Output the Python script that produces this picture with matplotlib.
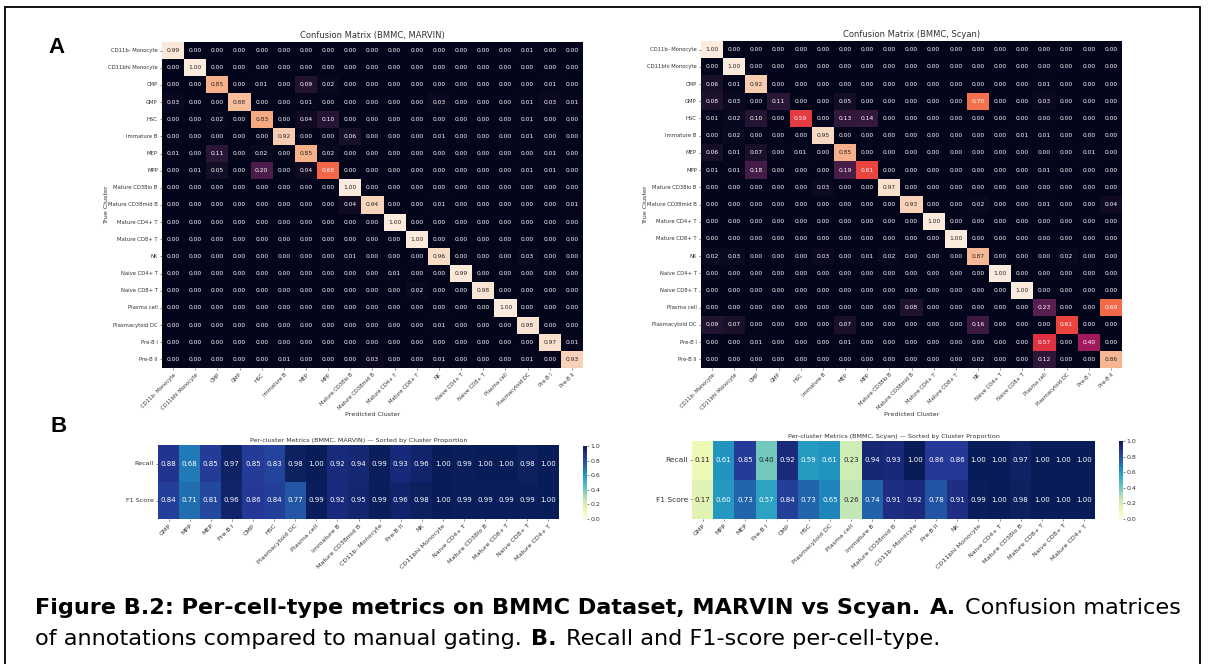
import numpy as np
import pandas as pd
import matplotlib
matplotlib.use('Agg')
import matplotlib.pyplot as plt
import seaborn as sns

# Clusters (order of confusion matrices)
clusters = ['CD11b- Monocyte', 'CD11bhi Monocyte', 'CMP', 'GMP', 'HSC', 'Immature B', 'MEP', 'MPP',
            'Mature CD38lo B', 'Mature CD38mid B', 'Mature CD4+ T', 'Mature CD8+ T', 'NK',
            'Naive CD4+ T', 'Naive CD8+ T', 'Plasma cell', 'Plasmacytoid DC', 'Pre-B I', 'Pre-B II']

# Confusion matrix MARVIN (rows = true, cols = predicted)
cm_marvin = [
    [.99, 0, 0, 0, 0, 0, 0, 0, 0, 0, 0, 0, 0, 0, 0, 0, .01, 0, 0],
    [0, 1.0, 0, 0, 0, 0, 0, 0, 0, 0, 0, 0, 0, 0, 0, 0, 0, 0, 0],
    [0, 0, .85, 0, .01, 0, .09, .02, 0, 0, 0, 0, 0, 0, 0, 0, 0, .01, 0],
    [.03, 0, 0, .88, 0, 0, .01, 0, 0, 0, 0, 0, .03, 0, 0, 0, .01, .03, .01],
    [0, 0, .02, 0, .83, 0, .04, .10, 0, 0, 0, 0, 0, 0, 0, 0, .01, 0, 0],
    [0, 0, 0, 0, 0, .92, 0, 0, .06, 0, 0, 0, .01, 0, 0, 0, .01, 0, 0],
    [.01, 0, .11, 0, .02, 0, .85, .02, 0, 0, 0, 0, 0, 0, 0, 0, 0, .01, 0],
    [0, .01, .05, 0, .20, 0, .04, .68, 0, 0, 0, 0, 0, 0, 0, 0, .01, .01, 0],
    [0, 0, 0, 0, 0, 0, 0, 0, 1.0, 0, 0, 0, 0, 0, 0, 0, 0, 0, 0],
    [0, 0, 0, 0, 0, 0, 0, 0, .04, .94, 0, 0, .01, 0, 0, 0, 0, 0, .01],
    [0, 0, 0, 0, 0, 0, 0, 0, 0, 0, 1.0, 0, 0, 0, 0, 0, 0, 0, 0],
    [0, 0, 0, 0, 0, 0, 0, 0, 0, 0, 0, 1.0, 0, 0, 0, 0, 0, 0, 0],
    [0, 0, 0, 0, 0, 0, 0, 0, .01, 0, 0, 0, .96, 0, 0, 0, .03, 0, 0],
    [0, 0, 0, 0, 0, 0, 0, 0, 0, 0, .01, 0, 0, .99, 0, 0, 0, 0, 0],
    [0, 0, 0, 0, 0, 0, 0, 0, 0, 0, 0, .02, 0, 0, .98, 0, 0, 0, 0],
    [0, 0, 0, 0, 0, 0, 0, 0, 0, 0, 0, 0, 0, 0, 0, 1.0, 0, 0, 0],
    [0, 0, 0, 0, 0, 0, 0, 0, 0, 0, 0, 0, .01, 0, 0, 0, .98, 0, 0],
    [0, 0, 0, 0, 0, 0, 0, 0, 0, 0, 0, 0, 0, 0, 0, 0, 0, .97, .01],
    [0, 0, 0, 0, 0, .01, 0, 0, 0, .03, 0, 0, .01, 0, 0, 0, .01, 0, .93],
]

# Confusion matrix Scyan
cm_scyan = [
    [1.0, 0, 0, 0, 0, 0, 0, 0, 0, 0, 0, 0, 0, 0, 0, 0, 0, 0, 0],
    [0, 1.0, 0, 0, 0, 0, 0, 0, 0, 0, 0, 0, 0, 0, 0, 0, 0, 0, 0],
    [.06, .01, .92, 0, 0, 0, 0, 0, 0, 0, 0, 0, 0, 0, 0, .01, 0, 0, 0],
    [.08, .03, 0, .11, 0, 0, .05, 0, 0, 0, 0, 0, .70, 0, 0, .03, 0, 0, 0],
    [.01, .02, .10, 0, .59, 0, .13, .14, 0, 0, 0, 0, 0, 0, 0, 0, 0, 0, 0],
    [0, .02, 0, 0, 0, .95, 0, 0, 0, 0, 0, 0, 0, 0, .01, .01, 0, 0, 0],
    [.06, .01, .07, 0, .01, 0, .85, 0, 0, 0, 0, 0, 0, 0, 0, 0, 0, .01, 0],
    [.01, .01, .18, 0, 0, 0, .19, .61, 0, 0, 0, 0, 0, 0, 0, .01, 0, 0, 0],
    [0, 0, 0, 0, 0, .03, 0, 0, .97, 0, 0, 0, 0, 0, 0, 0, 0, 0, 0],
    [0, 0, 0, 0, 0, 0, 0, 0, 0, .93, 0, 0, .02, 0, 0, .01, 0, 0, .04],
    [0, 0, 0, 0, 0, 0, 0, 0, 0, 0, 1.0, 0, 0, 0, 0, 0, 0, 0, 0],
    [0, 0, 0, 0, 0, 0, 0, 0, 0, 0, 0, 1.0, 0, 0, 0, 0, 0, 0, 0],
    [.02, .03, 0, 0, 0, .03, 0, .01, .02, 0, 0, 0, .87, 0, 0, 0, .02, 0, 0],
    [0, 0, 0, 0, 0, 0, 0, 0, 0, 0, 0, 0, 0, 1.0, 0, 0, 0, 0, 0],
    [0, 0, 0, 0, 0, 0, 0, 0, 0, 0, 0, 0, 0, 0, 1.0, 0, 0, 0, 0],
    [0, 0, 0, 0, 0, 0, 0, 0, 0, .08, 0, 0, 0, 0, 0, .23, 0, 0, .69],
    [.09, .07, 0, 0, 0, 0, .07, 0, 0, 0, 0, 0, .16, 0, 0, 0, .61, 0, 0],
    [0, 0, .01, 0, 0, 0, .01, 0, 0, 0, 0, 0, 0, 0, 0, .57, 0, .40, 0],
    [0, 0, 0, 0, 0, 0, 0, 0, 0, 0, 0, 0, .02, 0, 0, .12, 0, 0, .86],
]

# Per-cluster metrics (sorted by cluster proportion)
sorted_clusters = ['GMP', 'MPP', 'MEP', 'Pre-B I', 'CMP', 'HSC', 'Plasmacytoid DC', 'Plasma cell',
                   'Immature B', 'Mature CD38mid B', 'CD11b- Monocyte', 'Pre-B II', 'NK',
                   'CD11bhi Monocyte', 'Naive CD4+ T', 'Mature CD38lo B', 'Mature CD8+ T',
                   'Naive CD8+ T', 'Mature CD4+ T']
marvin_recall = [.88, .68, .85, .97, .85, .83, .98, 1.00, .92, .94, .99, .93, .96, 1.00, .99, 1.00, 1.00, .98, 1.00]
marvin_f1 = [.84, .71, .81, .96, .86, .84, .77, .99, .92, .95, .99, .96, .98, 1.00, .99, .99, .99, .99, 1.00]
scyan_recall = [.11, .61, .85, .40, .92, .59, .61, .23, .94, .93, 1.00, .86, .86, 1.00, 1.00, .97, 1.00, 1.00, 1.00]
scyan_f1 = [.17, .60, .73, .57, .84, .73, .65, .26, .74, .91, .92, .78, .91, .99, 1.00, .98, 1.00, 1.00, 1.00]

W, H = 1208, 664
fig = plt.figure(figsize=(W / 100, H / 100), dpi=100)


def px_axes(x0, y0, x1, y1):
    # axes from pixel box (top-left origin)
    return fig.add_axes([x0 / W, 1 - y1 / H, (x1 - x0) / W, (y1 - y0) / H])


def confusion(ax, data, title):
    df = pd.DataFrame(data, index=clusters, columns=clusters)
    sns.heatmap(df, ax=ax, cmap='rocket', vmin=0, vmax=1, cbar=False, annot=True, fmt='.2f',
                annot_kws={'fontsize': 4.3})
    ax.set_title(title, fontsize=6, pad=3, color='#333333')
    ax.set_xticks(np.arange(len(clusters)) + 0.5)
    ax.set_xticklabels(clusters, rotation=45, ha='right', fontsize=3.8, rotation_mode='anchor')
    ax.set_yticklabels(clusters, rotation=0, fontsize=3.8)
    ax.tick_params(length=1.5, width=0.4, pad=1.5, colors='#333333')
    ax.set_xlabel('Predicted Cluster', fontsize=4.6, color='#333333')
    ax.set_ylabel('True Cluster', fontsize=4.6, color='#333333')
    ax.xaxis.set_label_coords(0.5, -0.135)
    ax.yaxis.set_label_coords(-0.125, 0.5)


def metrics(ax, cax, recall, f1, title, lab_size):
    df = pd.DataFrame([recall, f1], index=['Recall', 'F1 Score'], columns=sorted_clusters)
    sns.heatmap(df, ax=ax, cbar_ax=cax, cmap='YlGnBu', vmin=0, vmax=1, annot=True, fmt='.2f',
                annot_kws={'fontsize': 5})
    ax.set_title(title, fontsize=4.6, pad=2.5, color='#333333')
    ax.set_xticklabels(sorted_clusters, rotation=45, ha='right', fontsize=4.6, rotation_mode='anchor')
    ax.set_yticklabels(['Recall', 'F1 Score'], rotation=0, fontsize=lab_size)
    ax.tick_params(length=1.5, width=0.4, pad=1.5, colors='#333333')
    cax.tick_params(labelsize=4.5, length=1.5, width=0.4, pad=1, colors='#333333')
    cax.set_yticks([0, .2, .4, .6, .8, 1.0])


ax1 = px_axes(162, 42, 583, 368)
confusion(ax1, cm_marvin, 'Confusion Matrix (BMMC, MARVIN)')
ax2 = px_axes(701, 41, 1122, 368)
confusion(ax2, cm_scyan, 'Confusion Matrix (BMMC, Scyan)')

ax3 = px_axes(158, 445, 559, 519)
cax3 = px_axes(583, 446, 587, 519)
metrics(ax3, cax3, marvin_recall, marvin_f1,
        'Per-cluster Metrics (BMMC, MARVIN) \u2014 Sorted by Cluster Proportion', 4.6)
ax4 = px_axes(692, 441, 1095, 519)
cax4 = px_axes(1119, 441, 1123, 519)
metrics(ax4, cax4, scyan_recall, scyan_f1,
        'Per-cluster Metrics (BMMC, Scyan) \u2014 Sorted by Cluster Proportion', 5.4)

# Panel letters
fig.text(48 / W, 1 - 53 / H, 'A', fontsize=16, fontweight='bold', family='Liberation Sans')
fig.text(50 / W, 1 - 432 / H, 'B', fontsize=16, fontweight='bold', family='Liberation Sans')

# Outer frame
fig.add_artist(plt.Rectangle((5 / W, -0.02), 1195 / W, (H - 7) / H + 0.02, transform=fig.transFigure,
                             fill=False, lw=1.3, ec='black'))

# Caption: bold and regular runs laid out one after another
cap_font = 'DejaVu Sans'
renderer = fig.canvas.get_renderer()


def text_w(s, size, weight):
    t = fig.text(0, 0, s, fontsize=size, fontweight=weight, family=cap_font)
    w = t.get_window_extent(renderer).width
    t.remove()
    return w


line1 = [('Figure B.2: Per-cell-type metrics on BMMC Dataset, MARVIN vs Scyan.', 'bold'),
         ('A.', 'bold'), ('Confusion matrices', 'normal')]
line2 = [('of annotations compared to manual gating.', 'normal'), ('B.', 'bold'),
         ('Recall and F1-score per-cell-type.', 'normal')]

# fit the bold lead-in to its reference width (35 -> 920 px)
cap_size = 20 * 885 / text_w(line1[0][0], 20, 'bold')
space = text_w('x x', cap_size, 'normal') - text_w('xx', cap_size, 'normal')


def draw_line(runs, y_px):
    x = 35
    for s, w in runs:
        t = fig.text(x / W, 1 - y_px / H, s, fontsize=cap_size, fontweight=w, family=cap_font,
                     va='baseline', color='black')
        x += t.get_window_extent(renderer).width + space * 1.3


draw_line(line1, 614)
draw_line(line2, 645)

fig.savefig('out.png', dpi=100)
